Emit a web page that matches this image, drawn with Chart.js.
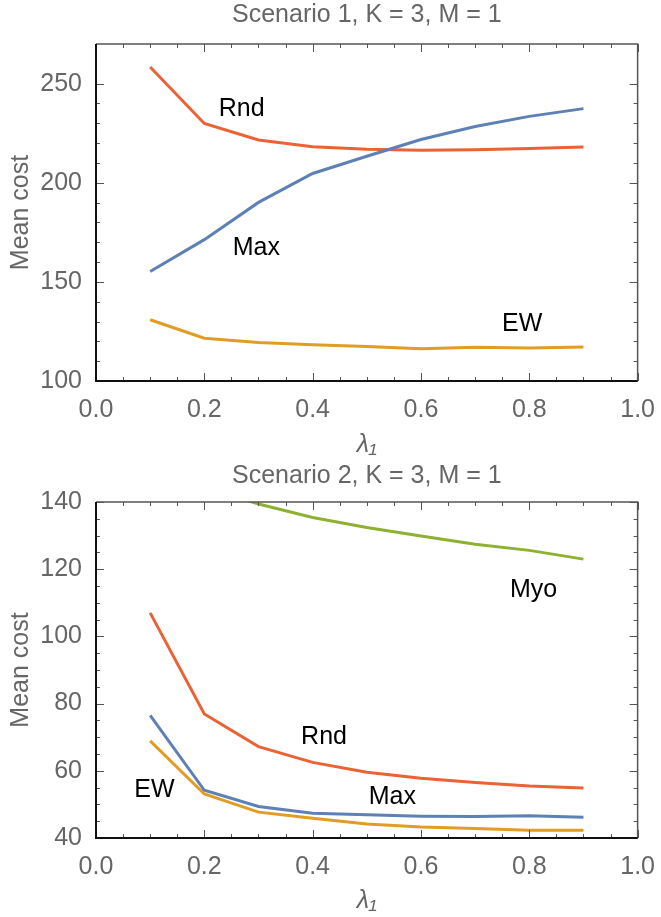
<!DOCTYPE html>
<html>
<head>
<meta charset="utf-8">
<script src="https://cdn.jsdelivr.net/npm/chart.js@4.4.0/dist/chart.umd.min.js"></script>
<style>
body { margin: 0; background: #fff; }
canvas { position: absolute; left: 0; }
</style>
</head>
<body>
<canvas id="c1" width="661" height="460" style="top:0px"></canvas>
<canvas id="c2" width="661" height="457" style="top:460px"></canvas>
<script>
// lambda_1 values on the x axis
const lambda1 = [0.1, 0.2, 0.3, 0.4, 0.5, 0.6, 0.7, 0.8, 0.9]
const xTicks = [0, 0.2, 0.4, 0.6, 0.8, 1.0]

// Scenario 1, K = 3, M = 1
const s1Rnd = [258.4, 229.9, 221.6, 218.2, 216.9, 216.4, 216.7, 217.3, 218.1]
const s1Max = [155.2, 171.3, 190.1, 204.7, 213.4, 221.8, 228.4, 233.5, 237.4]
const s1EW  = [130.9, 121.6, 119.4, 118.3, 117.4, 116.3, 117.0, 116.6, 117.1]
const s1YTicks = [100, 150, 200, 250]

// Scenario 2, K = 3, M = 1
const s2Myo = [151.0, 144.5, 139.4, 135.4, 132.4, 129.9, 127.4, 125.6, 123.0]
const s2Rnd = [107.0, 76.9, 67.2, 62.5, 59.6, 57.8, 56.5, 55.5, 54.9]
const s2Max = [76.5, 54.2, 49.4, 47.4, 46.9, 46.5, 46.4, 46.6, 46.2]
const s2EW  = [68.9, 53.1, 47.7, 45.9, 44.2, 43.3, 42.8, 42.3, 42.3]
const s2YTicks = [40, 60, 80, 100, 120, 140]

const colors = { Max: '#5e81b5', EW: '#e19c24', Myo: '#8fb032', Rnd: '#eb6235' }
const family = '"Liberation Sans", Arial, sans-serif'

function pts(vals) {
    return lambda1.map((x, i) => ({ x: x, y: vals[i] }))
}

function line(name, vals) {
    return {
        label: name,
        data: pts(vals),
        borderColor: colors[name],
        borderWidth: 3,
        pointRadius: 0,
        tension: 0,
        fill: false
    }
}

// Mathematica-like frame with inward ticks on all four sides
const frameTicks = {
    id: 'frameTicks',
    afterDatasetsDraw(chart, args, opts) {
        const { ctx, chartArea: a, scales: { x, y } } = chart
        ctx.save()
        ctx.strokeStyle = '#555'
        ctx.lineWidth = 1
        ctx.beginPath()
        for (let i = 0; i <= 20; i++) {
            let px = Math.round(x.getPixelForValue(i * 0.05)) + 0.5
            let len = i % 4 == 0 ? 8 : 4
            ctx.moveTo(px, a.bottom); ctx.lineTo(px, a.bottom - len)
            ctx.moveTo(px, a.top); ctx.lineTo(px, a.top + len)
        }
        let n = Math.round((opts.yMax - opts.yMin) / opts.yMinor)
        for (let i = 0; i <= n; i++) {
            let v = opts.yMin + i * opts.yMinor
            let py = Math.round(y.getPixelForValue(v)) + 0.5
            let len = i % opts.perMajor == 0 ? 8 : 4
            ctx.moveTo(a.left, py); ctx.lineTo(a.left + len, py)
            ctx.moveTo(a.right, py); ctx.lineTo(a.right - len, py)
        }
        ctx.stroke()
        // frame
        ctx.strokeStyle = '#555'
        ctx.lineWidth = 1.5
        ctx.beginPath()
        ctx.moveTo(a.left, a.top); ctx.lineTo(a.right, a.top); ctx.lineTo(a.right, a.bottom)
        ctx.stroke()
        ctx.strokeStyle = '#111'
        ctx.lineWidth = 2
        ctx.beginPath()
        ctx.moveTo(a.left, a.top); ctx.lineTo(a.left, a.bottom); ctx.lineTo(a.right, a.bottom)
        ctx.stroke()
        ctx.restore()
    }
}

// text labels next to the curves, placed in data coordinates
const curveLabels = {
    id: 'curveLabels',
    afterDatasetsDraw(chart, args, opts) {
        const { ctx, scales: { x, y } } = chart
        ctx.save()
        ctx.fillStyle = '#000'
        ctx.font = '25px ' + family
        ctx.textAlign = 'center'
        ctx.textBaseline = 'middle'
        opts.items.forEach(it => {
            ctx.fillText(it.text, x.getPixelForValue(it.x), y.getPixelForValue(it.y))
        })
        ctx.restore()
    }
}

function makeChart(id, title, datasets, yMin, yMax, yTicks, yMinor, perMajor, labels, pad) {
    return new Chart(document.getElementById(id), {
        type: 'line',
        data: { datasets: datasets },
        plugins: [frameTicks, curveLabels],
        options: {
            responsive: false,
            animation: false,
            devicePixelRatio: 1,
            layout: { padding: { left: 0, right: 21, top: 0, bottom: 0 } },
            plugins: {
                legend: { display: false },
                tooltip: { enabled: false },
                title: {
                    display: true,
                    text: title,
                    color: '#666',
                    fullSize: false,
                    font: { size: 25, family: family, weight: 'normal' },
                    padding: { top: pad.titleTop, bottom: pad.titleBottom }
                },
                frameTicks: { yMin: yMin, yMax: yTicks[yTicks.length - 1], yMinor: yMinor, perMajor: perMajor },
                curveLabels: { items: labels }
            },
            scales: {
                x: {
                    type: 'linear',
                    min: 0,
                    max: 1,
                    grid: { display: false },
                    border: { display: false },
                    afterBuildTicks: s => { s.ticks = xTicks.map(v => ({ value: v })) },
                    afterFit: s => { s.height = pad.xHeight },
                    ticks: {
                        color: '#666',
                        font: { size: 25, family: family },
                        padding: 6,
                        maxRotation: 0,
                        autoSkip: false,
                        callback: v => v.toFixed(1)
                    },
                    title: {
                        display: true,
                        text: 'λ₁',
                        color: '#666',
                        font: { size: 25, family: family, style: 'italic' },
                        padding: { top: 0, bottom: pad.xTitleBottom }
                    }
                },
                y: {
                    min: yMin,
                    max: yMax,
                    grid: { display: false },
                    border: { display: false },
                    afterBuildTicks: s => { s.ticks = yTicks.map(v => ({ value: v })) },
                    afterFit: s => { s.width = 96 },
                    ticks: {
                        color: '#666',
                        font: { size: 25, family: family },
                        padding: 6
                    },
                    title: {
                        display: true,
                        text: 'Mean cost',
                        color: '#666',
                        font: { size: 25, family: family },
                        padding: { top: 6, bottom: 0 }
                    }
                }
            }
        }
    })
}

makeChart('c1', 'Scenario 1, K = 3, M = 1',
    [line('Max', s1Max), line('EW', s1EW), line('Rnd', s1Rnd)],
    100, 270, s1YTicks, 10, 5,
    [
        { text: 'Rnd', x: 0.269, y: 237.4 },
        { text: 'Max', x: 0.296, y: 167 },
        { text: 'EW', x: 0.787, y: 128.9 }
    ],
    { titleTop: 0, titleBottom: 14, xHeight: 79, xTitleBottom: 0 })

makeChart('c2', 'Scenario 2, K = 3, M = 1',
    [line('Max', s2Max), line('EW', s2EW), line('Myo', s2Myo), line('Rnd', s2Rnd)],
    40, 140, s2YTicks, 5, 4,
    [
        { text: 'Myo', x: 0.808, y: 113.8 },
        { text: 'Rnd', x: 0.421, y: 69.9 },
        { text: 'Max', x: 0.547, y: 52.2 },
        { text: 'EW', x: 0.108, y: 54.4 }
    ],
    { titleTop: 1, titleBottom: 11, xHeight: 79, xTitleBottom: 1 })
</script>
</body>
</html>
